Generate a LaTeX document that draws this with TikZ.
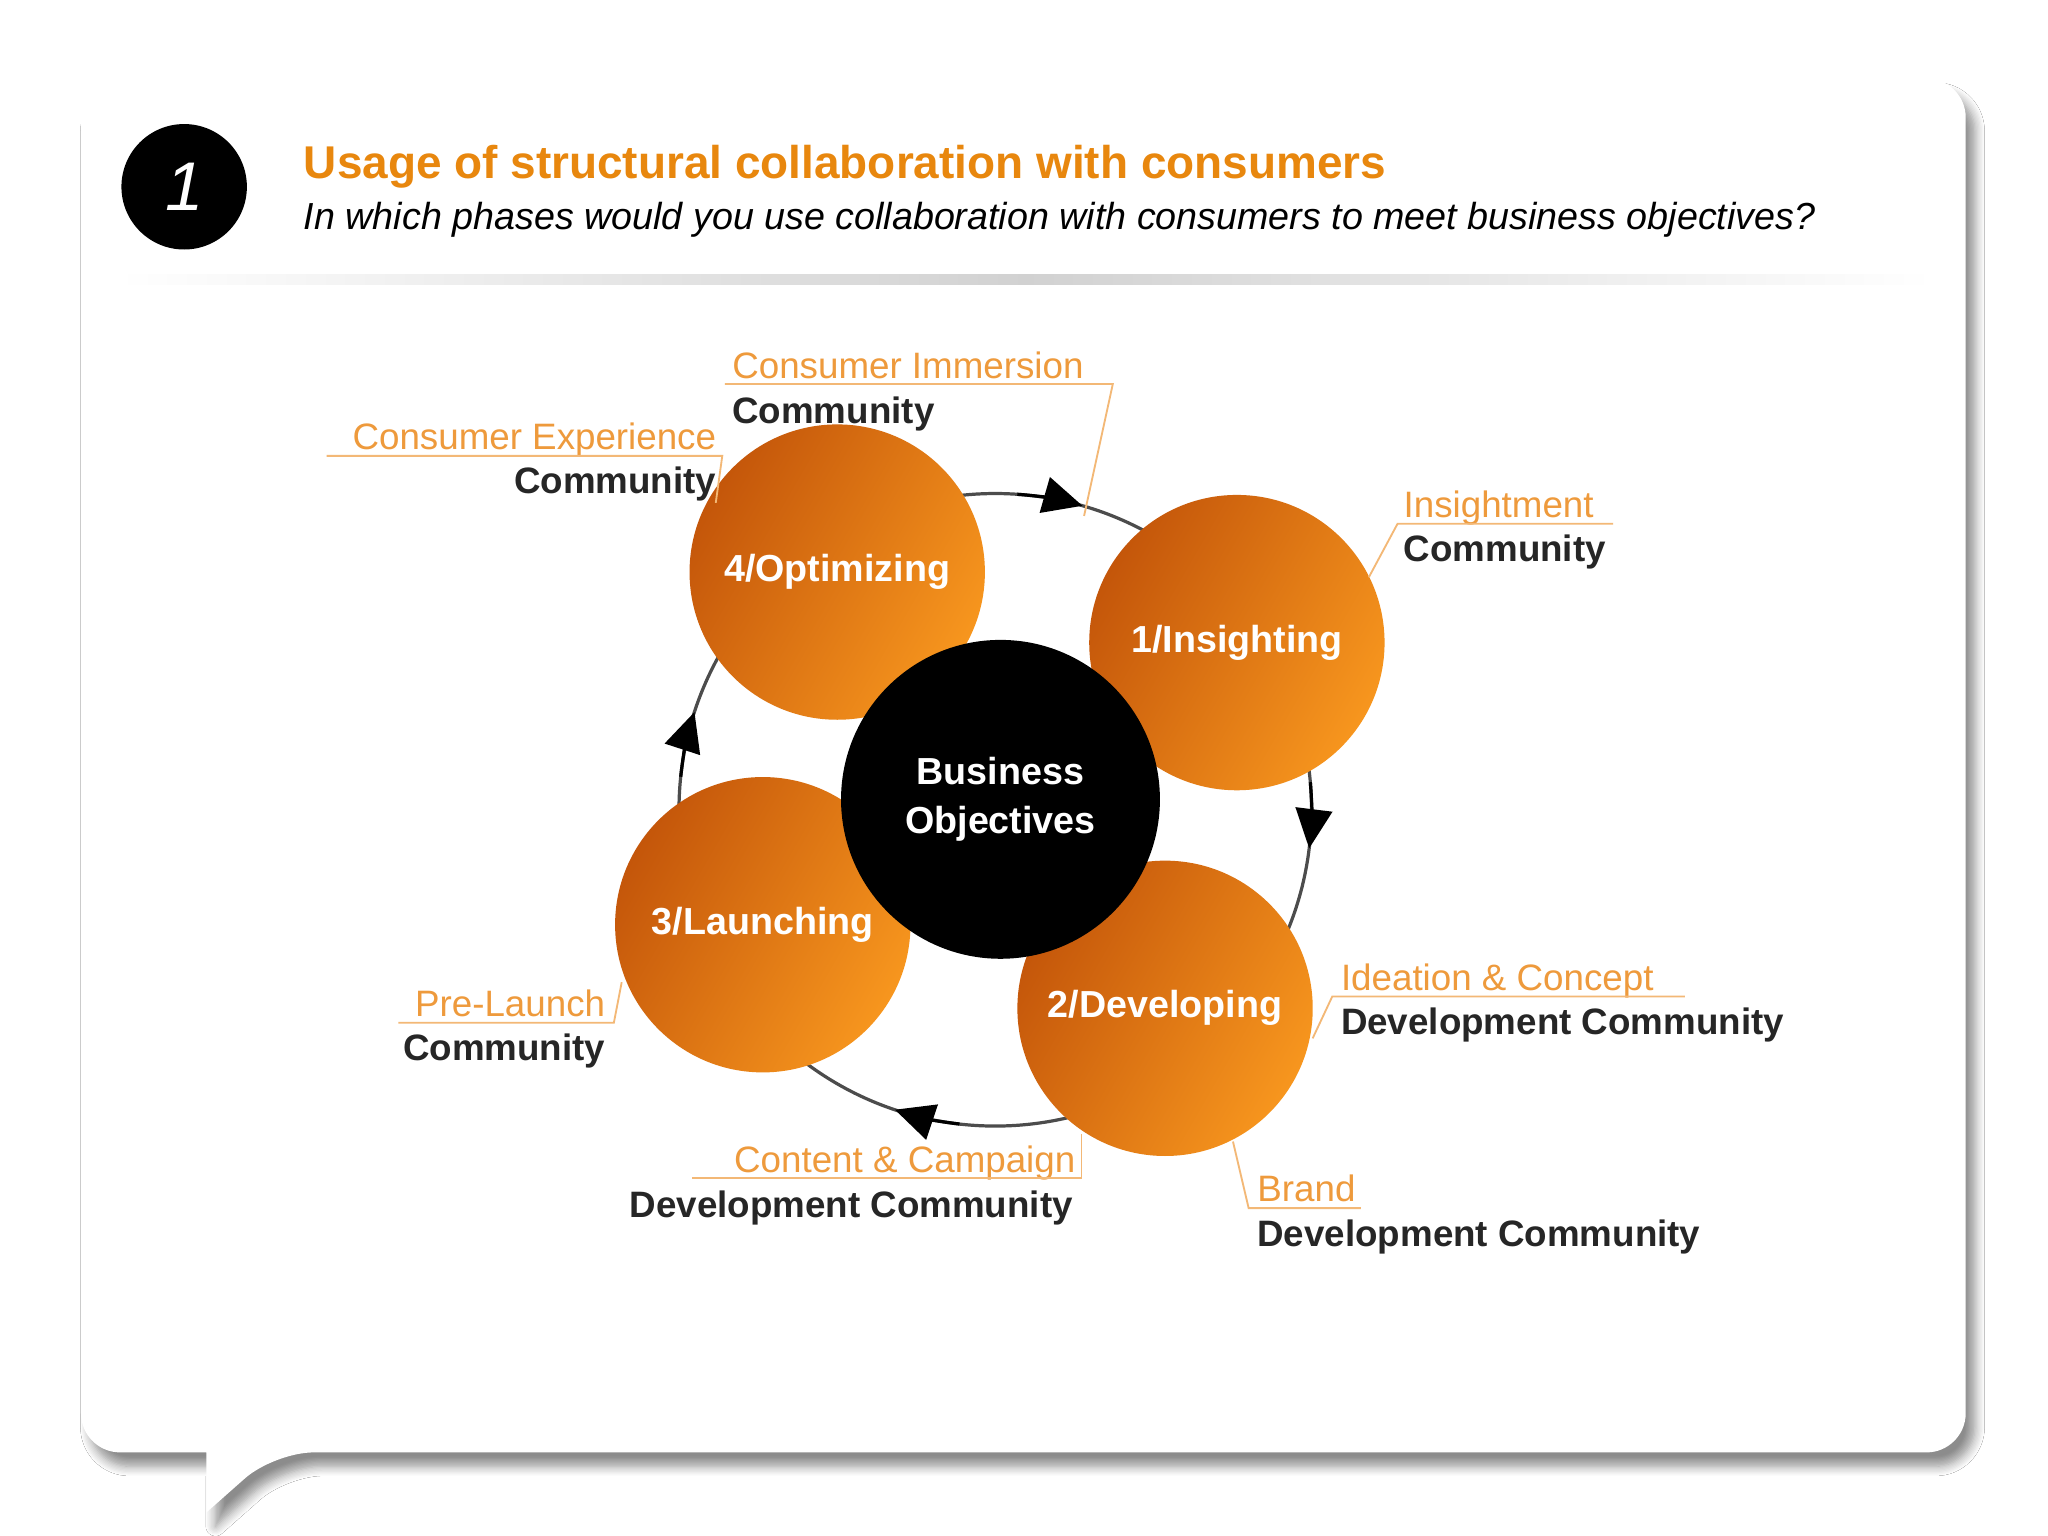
\documentclass[tikz,border=0pt]{standalone}
\usepackage{fontspec}
\setmainfont{Liberation Sans}
\usetikzlibrary{arrows.meta,shadows.blur}
\definecolor{org}{HTML}{E8870E}
\definecolor{orgL}{HTML}{F7961E}
\definecolor{orgD}{HTML}{C4560A}
\definecolor{lbl}{HTML}{EE9A3C}
\tikzset{
 phase/.style={circle,minimum size=2.26cm,inner sep=0pt,shading=axis,left color=orgD,right color=orgL,shading angle=60,text=white,font=\bfseries\fontsize{8.2}{10}\selectfont},
 olab/.style={text=lbl,font=\fontsize{8}{10}\selectfont,inner sep=0pt},
 blab/.style={text=black!85,font=\bfseries\fontsize{8}{10}\selectfont,inner sep=0pt},
 lead/.style={draw=lbl!70,line width=0.4pt},
 cyc/.style={draw=black!70,line width=0.7pt},
 tip/.style={-{Triangle[length=0.3cm,width=0.28cm]},black,line width=0.7pt}
}
\begin{document}
\begin{tikzpicture}[x=0.01cm,y=-0.01cm]
\useasboundingbox (0,0) rectangle (1568,1176);
\fill[white] (0,0) rectangle (1568,1176);
% card with tail
\path[fill=white,blur shadow={shadow blur steps=8,shadow xshift=2pt,shadow yshift=-3pt,shadow opacity=45}]
 [rounded corners=0.3cm] (62,1112) -- (62,60) -- (1505,60) -- (1505,1112) -- (210,1112) [sharp corners] -- (158,1158) -- (158,1112) [rounded corners=0.3cm] -- cycle;
% header
\node[circle,fill=black,minimum size=0.96cm,inner sep=0pt,text=white,font=\itshape\fontsize{15}{16}\selectfont] (num) at (141,143) {1};
\node[anchor=base west,inner sep=0pt,text=org,font=\bfseries\fontsize{10}{12}\selectfont] (title) at (232,137) {Usage of structural collaboration with consumers};
\node[anchor=base west,inner sep=0pt,font=\itshape\fontsize{8.2}{10}\selectfont] (sub) at (232,176) {In which phases would you use collaboration with consumers to meet business objectives?};
\shade[left color=white,right color=white,middle color=black!18] (90,210) rectangle (1480,218);
% cycle
\coordinate (cc) at (762,620);
\draw[cyc] (cc) circle (2.42cm);
\foreach \a in {74,-7,251.5,162} {
  \draw[tip] ([shift={(\a+12:2.42cm)}]cc) arc (\a+12:\a:2.42cm);
}
% circles
\node[phase] (opt) at (641,438) {4/Optimizing};
\node[phase] (ins) at (947,492) {1/Insighting};
\node[phase] (lau) at (584,708) {3/Launching};
\node[phase] (dev) at (892,772) {2/Developing};
\node[circle,fill=black,minimum size=2.44cm,inner sep=0pt,text=white,align=center,font=\bfseries\fontsize{8.2}{10.5}\selectfont] (bo) at (766,612) {Business\\Objectives};
% labels
\node[olab,anchor=base west] (ci) at (560,290) {Consumer\ Immersion};
\node[blab,anchor=base west] (ci2) at (560,324) {Community};
\draw[lead] (555,294) -- (852,294) -- (830,395);
\node[olab,anchor=base east] (ce) at (549,344) {Consumer\ Experience};
\node[blab,anchor=base east] (ce2) at (549,378) {Community};
\draw[lead] (250,349) -- (553,349) -- (548,385);
\node[olab,anchor=base west] (im) at (1074,396) {Insightment};
\node[blab,anchor=base west] (im2) at (1074,430) {Community};
\draw[lead] (1235,401) -- (1070,401) -- (1048,442);
\node[olab,anchor=base west] (ic) at (1026,758) {Ideation\ \&\ Concept};
\node[blab,anchor=base west] (ic2) at (1026,792) {Development\ Community};
\draw[lead] (1290,763) -- (1020,763) -- (1005,795);
\node[olab,anchor=base west] (br) at (962,920) {Brand};
\node[blab,anchor=base west] (br2) at (962,954) {Development\ Community};
\draw[lead] (1042,925) -- (956,925) -- (944,874);
\node[olab,anchor=base east] (cc1) at (824,898) {Content\ \&\ Campaign};
\node[blab,anchor=base east] (cc2) at (822,932) {Development\ Community};
\draw[lead] (530,902) -- (828,902) -- (828,868);
\node[olab,anchor=base east] (pl) at (464,778) {Pre-Launch};
\node[blab,anchor=base east] (pl2) at (464,812) {Community};
\draw[lead] (305,783) -- (470,783) -- (476,752);
\end{tikzpicture}
\end{document}
